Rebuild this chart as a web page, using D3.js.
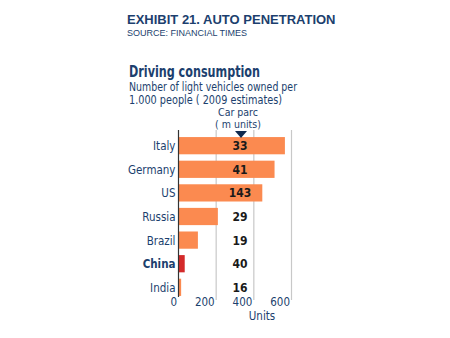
<!DOCTYPE html>
<html><head><meta charset="utf-8">
<script src="https://cdn.jsdelivr.net/npm/d3@7"></script>
<style>body{margin:0;background:#fff;} svg{display:block;}</style>
</head><body>
<script>
const countries = ["Italy","Germany","US","Russia","Brazil","China","India"];
const vehiclesPer1000 = [565, 510, 445, 209, 103, 33, 14];
const carParc = [33, 41, 143, 29, 19, 40, 16];
const xTicks = [0, 200, 400, 600];

const W = 450, H = 338;
const svg = d3.select("body").append("svg").attr("width", W).attr("height", H);
const navy = "#1c3f6e";
const font = "'DejaVu Sans Condensed', 'DejaVu Sans', sans-serif";

svg.append("text").attr("x", 127).attr("y", 24).text("EXHIBIT 21. AUTO PENETRATION")
  .attr("font-family", "'Liberation Sans', Arial, sans-serif").attr("font-weight", "bold")
  .attr("font-size", 13).attr("fill", navy);
svg.append("text").attr("x", 127).attr("y", 36).text("SOURCE: FINANCIAL TIMES")
  .attr("font-family", "'Liberation Sans', Arial, sans-serif").attr("font-size", 9).attr("fill", navy);

svg.append("text").attr("x", 129).attr("y", 77).text("Driving consumption")
  .attr("font-family", font).attr("font-weight", "bold").attr("font-size", 15).attr("fill", navy)
  .attr("textLength", 131).attr("lengthAdjust", "spacingAndGlyphs");
const sub = svg.append("text").attr("font-family", font).attr("font-size", 11.5).attr("fill", navy);
sub.append("tspan").attr("x", 129).attr("y", 91).text("Number of light vehicles owned per")
  .attr("textLength", 168).attr("lengthAdjust", "spacingAndGlyphs");
sub.append("tspan").attr("x", 129).attr("y", 103.5).text("1.000 people ( 2009 estimates)")
  .attr("textLength", 153).attr("lengthAdjust", "spacingAndGlyphs");

const x = d3.scaleLinear().domain([0, 600]).range([178.5, 291.5]);
const y = d3.scaleBand().domain(countries).range([134, 299]).paddingInner(0.27).paddingOuter(0.13);

// gridlines
svg.append("g").selectAll("line").data(xTicks.slice(1)).join("line")
  .attr("x1", d => x(d)).attr("x2", d => x(d)).attr("y1", 130).attr("y2", 300)
  .attr("stroke", "#c8c8c8").attr("stroke-width", 1.2);

// bars
svg.append("g").selectAll("rect").data(countries).join("rect")
  .attr("x", x(0)).attr("y", d => y(d))
  .attr("width", (d, i) => x(vehiclesPer1000[i]) - x(0))
  .attr("height", y.bandwidth())
  .attr("fill", d => d === "China" ? "#d42a2a" : "#fb8a50");

// axis line
svg.append("line").attr("x1", x(0)).attr("x2", x(0)).attr("y1", 130).attr("y2", 297)
  .attr("stroke", "#333").attr("stroke-width", 1.2);

// category labels
svg.append("g").selectAll("text").data(countries).join("text")
  .attr("x", 175.5).attr("y", d => y(d) + y.bandwidth() / 2 + 4.5)
  .attr("text-anchor", "end").attr("font-family", font).attr("font-size", 11.5)
  .attr("font-weight", d => d === "China" ? "bold" : "normal")
  .attr("fill", navy).text(d => d);

// car parc values
svg.append("g").selectAll("text").data(countries).join("text")
  .attr("x", 240).attr("y", d => y(d) + y.bandwidth() / 2 + 4.5)
  .attr("text-anchor", "middle").attr("font-family", font).attr("font-size", 12)
  .attr("font-weight", "bold").attr("fill", "#1a1a1a").text((d, i) => carParc[i]);

// car parc header
const hdr = svg.append("text").attr("font-family", font).attr("font-size", 10.5).attr("fill", navy).attr("text-anchor", "middle");
hdr.append("tspan").attr("x", 238).attr("y", 115.5).text("Car parc");
hdr.append("tspan").attr("x", 238).attr("y", 127.5).text("( m units)");
svg.append("path").attr("d", "M235,131 L247,131 L241,138 Z").attr("fill", "#0f2a4f");

// x tick labels
svg.append("g").selectAll("text").data(xTicks).join("text")
  .attr("x", d => x(d) - 1.5).attr("y", 306).attr("text-anchor", "end")
  .attr("font-family", font).attr("font-size", 11.5).attr("fill", navy).text(d => d);
svg.append("text").attr("x", 262).attr("y", 320).attr("text-anchor", "middle")
  .attr("font-family", font).attr("font-size", 11.5).attr("fill", navy).text("Units");
</script>
</body></html>
